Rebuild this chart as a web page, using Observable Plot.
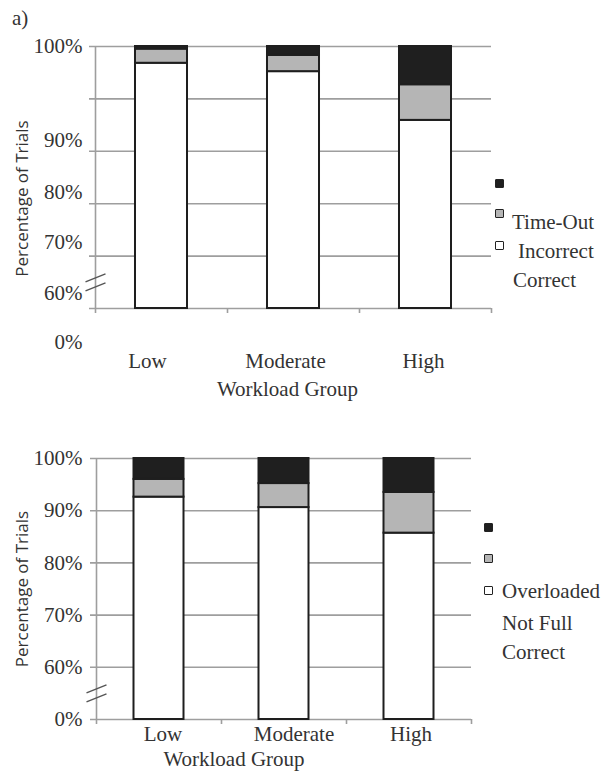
<!DOCTYPE html>
<html><head><meta charset="utf-8">
<script src="https://cdn.jsdelivr.net/npm/d3@7"></script>
<script src="https://cdn.jsdelivr.net/npm/@observablehq/plot@0.6"></script>
<style>
body{margin:0;background:#fff;}
#wrap{position:relative;width:602px;height:779px;overflow:hidden;font-family:"Liberation Serif","Times New Roman",serif;color:#333;background:#fff;}
#wrap svg{display:block}
.abs{position:absolute;white-space:nowrap;font-size:21px;line-height:1;}
.sw{position:absolute;width:7px;height:7px;border:1.5px solid #222;border-radius:1px;}
</style></head><body><div id="wrap"></div>
<script>
// ---------- data ----------
const groups = ["Low", "Moderate", "High"];

// panel a
const aSeries = ["Correct", "Incorrect", "Time-Out"];
const aCorrect = [96.8, 95.2, 85.9];
const aIncorrect = [2.7, 3.1, 6.8];
const aTimeOut = [0.5, 1.7, 7.3];

// panel b
const bSeries = ["Correct", "Not Full", "Overloaded"];
const bCorrect = [92.6, 90.6, 85.7];
const bNotFull = [3.4, 4.6, 7.8];
const bOverloaded = [4.0, 4.8, 6.5];

// axis
const gridValues = [100, 90, 80, 70, 60, 0];
const aTickLabels = ["100%", "90%", "80%", "70%", "60%", "0%"];
const aTickAt = [100, 80, 70, 60, 0, 0];   // gridline each printed label sits by (labels are shifted in the source)
const bTickLabels = ["100%", "90%", "80%", "70%", "60%", "0%"];
const bTickAt = [100, 90, 80, 70, 60, 0];
const breakAt = 30;
const axisBreak = 60;   // 0–60 compressed into one grid step

// legends (as printed, labels offset from swatches)
const aLegendLabels = ["Time-Out", "Incorrect", "Correct"];
const bLegendLabels = ["Overloaded", "Not Full", "Correct"];

// ---------- drawing ----------
const colors = ["#ffffff", "#b5b5b5", "#1f1f1f"];
const serif = "'Liberation Serif', 'Times New Roman', serif";
const breakSymbol = {
  draw(ctx) {
    for (const o of [-4.5, 4.5]) { ctx.moveTo(-10, o + 4); ctx.lineTo(10, o - 4); }
  }
};
// broken axis: 0..60 takes one step, then one step per 10%
const brokenY = v => v <= axisBreak ? v / axisBreak : 1 + (v - axisBreak) / 10;

function panel(cfg) {
  const {height, mt, mb, ml, mr, pi, series, values, tickLabels, tickAt, tickDx, tickDy,
         xShift, xDy, wgDx, wgDy, titleDx, titleDy} = cfg;
  const width = 602;
  const half = (width - ml - mr) / groups.length / 2;
  const rows = groups.flatMap((g, i) => series.map((s, j) => ({group: g, series: s, value: values[j][i]})));
  const tickRows = tickLabels.map((label, i) => ({label, at: tickAt[i]}));
  const grid = "#9e9e9e";
  return Plot.plot({
    width, height, marginTop: mt, marginBottom: mb, marginLeft: ml, marginRight: mr,
    style: {background: "white", fontFamily: serif, overflow: "visible"},
    x: {domain: groups, paddingInner: pi, paddingOuter: pi / 2, round: false, axis: null},
    y: {type: "linear", transform: brokenY, domain: [brokenY(0), brokenY(100)], axis: null},
    color: {domain: series, range: colors},
    marks: [
      Plot.ruleY(gridValues, {stroke: grid, strokeWidth: 1.6, insetLeft: -6}),
      Plot.ruleX([groups[0]], {x: d => d, dx: -half, stroke: grid, strokeWidth: 1.6, insetBottom: -5}),
      Plot.ruleX(groups, {x: d => d, dx: half, y1: 0, y2: 0, insetTop: 5, stroke: grid, strokeWidth: 1.6}),
      Plot.barY(rows, {x: "group", y: "value", fill: "series", order: series, stroke: "#1e1e1e", strokeWidth: 2}),
      Plot.dot([breakAt], {y: d => d, frameAnchor: "left", symbol: breakSymbol, stroke: "#555", strokeWidth: 1.4}),
      ...tickRows.map((r, i) => Plot.text([r], {y: "at", text: "label", frameAnchor: "left", textAnchor: "end",
        dx: tickDx, dy: tickDy[i], fontSize: 21, fill: "#333"})),
      ...groups.map((g, i) => Plot.text([g], {x: d => d, frameAnchor: "bottom", dx: xShift[i], dy: xDy,
        fontSize: 21, fill: "#333"})),
      Plot.text(["Workload Group"], {frameAnchor: "bottom", dx: wgDx, dy: wgDy, fontSize: 21, fill: "#333"}),
      Plot.text(["Percentage of Trials"], {frameAnchor: "left", textAnchor: "middle", rotate: -90, dx: titleDx, dy: titleDy,
        fontFamily: "'Open Sans', sans-serif", fontSize: 17, fill: "#333"})
    ]
  });
}

const wrap = document.getElementById("wrap");

const panelA = panel({
  height: 410, mt: 46, mb: 102, ml: 95, mr: 111, pi: 0.606,
  series: aSeries, values: [aCorrect, aIncorrect, aTimeOut],
  tickLabels: aTickLabels, tickAt: aTickAt, tickDx: -13, tickDy: [0, -11, -11, -14, -15, 34],
  xShift: [-14, -8, -2], xDy: 59, wgDx: -6, wgDy: 87, titleDx: -73, titleDy: 21
});
const panelB = panel({
  height: 369, mt: 48, mb: 60, ml: 96, mr: 131, pi: 0.6,
  series: bSeries, values: [bCorrect, bNotFull, bOverloaded],
  tickLabels: bTickLabels, tickAt: bTickAt, tickDx: -14, tickDy: [0, 0, 0, 0, 0, 0],
  xShift: [4, 10, 2], xDy: 21, wgDx: -50, wgDy: 46, titleDx: -74, titleDy: 0
});
wrap.append(panelA, panelB);

function addText(txt, left, centerY) {
  const d = document.createElement("div");
  d.className = "abs"; d.textContent = txt;
  d.style.left = left + "px"; d.style.top = (centerY - 10.5) + "px";
  wrap.append(d);
}
function addSwatch(color, left, centerY) {
  const d = document.createElement("div");
  d.className = "sw"; d.style.background = color;
  d.style.left = left + "px"; d.style.top = (centerY - 5) + "px";
  wrap.append(d);
}
addText("a)", 12, 18);
// panel a legend: swatches dark→light
[colors[2], colors[1], colors[0]].forEach((c, i) => addSwatch(c, 495, [184, 214, 246][i]));
aLegendLabels.forEach((t, i) => addText(t, [512, 518, 513][i], [222, 251, 280][i]));
// panel b legend
[colors[2], colors[1], colors[0]].forEach((c, i) => addSwatch(c, 484, [528, 559, 591][i]));
bLegendLabels.forEach((t, i) => addText(t, 502, [591, 623, 652][i]));
</script></body></html>
